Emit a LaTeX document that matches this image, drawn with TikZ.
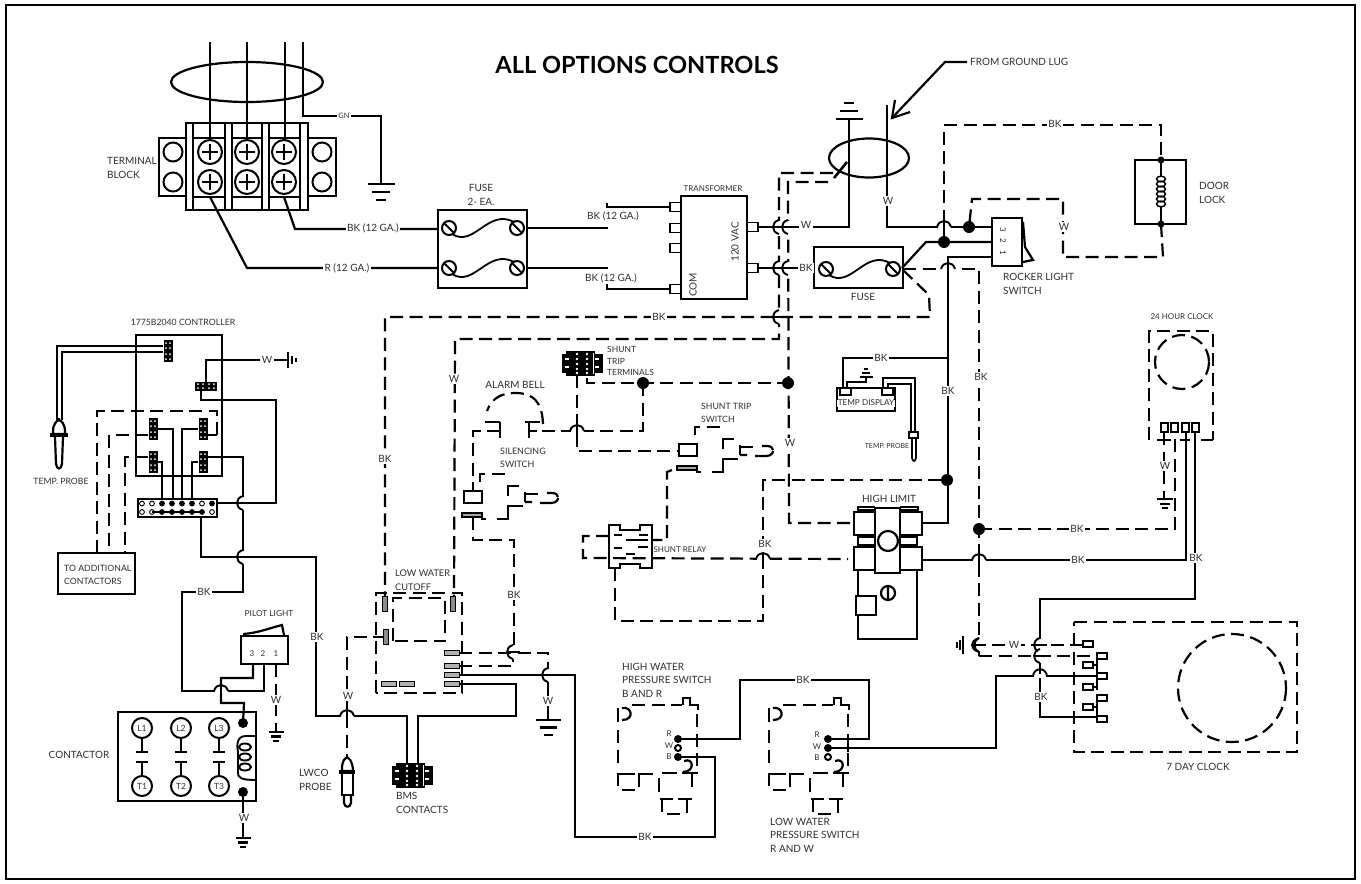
\documentclass[tikz,border=0pt]{standalone}
\usepackage{fontspec}
\setmainfont{Lato}
\newcommand\fs[1]{\fontsize{#1}{#1*1.0}\selectfont}
\tikzset{
 wire/.style={line width=2.2pt,line join=miter,black},
 dashw/.style={line width=2.2pt,dash pattern=on 13pt off 6.5pt,black},
 lbl/.style={font=\fontsize{10}{13.5}\selectfont,text=black!82,inner sep=1pt,align=left},
 cut/.style={lbl,fill=white,inner sep=1.5pt},
 small/.style={font=\fontsize{8}{9}\selectfont,text=black!82,inner sep=0.5pt},
 gnd/.style={line width=2.2pt},
 dotj/.style={circle,fill=black,inner sep=0pt,minimum size=#1},
 dotj/.default=12pt
}
\newcommand\humpH[2]{\fill[white] (#1-6.5,#2-1.6) rectangle (#1+6.5,#2+1.6);
 \draw[line width=1.9pt] (#1-7,#2) .. controls (#1-5,#2-8) and (#1+5,#2-8) .. (#1+7,#2);
 \draw[line width=1.9pt] (#1,#2-6) -- (#1,#2+7);}
\newcommand\humpV[2]{\fill[white] (#1-1.6,#2-6.5) rectangle (#1+1.6,#2+6.5);
 \draw[line width=1.9pt] (#1,#2-7) .. controls (#1-8,#2-5) and (#1-8,#2+5) .. (#1,#2+7);
 \draw[line width=1.9pt] (#1-6,#2) -- (#1+7,#2);}
\newcommand\gndH[3]{\draw[gnd] (#1-#3,#2) -- (#1+#3,#2);
 \draw[gnd] (#1-0.68*#3,#2+0.6*#3) -- (#1+0.68*#3,#2+0.6*#3);
 \draw[gnd] (#1-0.36*#3,#2+1.2*#3) -- (#1+0.36*#3,#2+1.2*#3);}
\newcommand\screwP[2]{\draw[line width=2pt,fill=white] (#1,#2) circle[radius=12];
 \draw[line width=1.8pt] (#1-8,#2) -- (#1+8,#2) (#1,#2-8) -- (#1,#2+8);}
\newcommand\screwD[2]{\draw[line width=2pt,fill=white] (#1,#2) circle[radius=7];
 \draw[line width=2pt] (#1-5,#2-5) -- (#1+5,#2+5);}
\newcommand\connV[2]{\fill (#1-4.5,#2-11) rectangle (#1+4.5,#2+11);
 \foreach \yy in {-8,-3,3,8}{\fill[white] (#1-2,#2+\yy) circle[radius=1]; \fill[white] (#1+2,#2+\yy) circle[radius=1];}}
\newcommand\connH[2]{\fill (#1-11,#2-4.5) rectangle (#1+11,#2+4.5);
 \foreach \xx in {-8,-3,3,8}{\fill[white] (#1+\xx,#2-2) circle[radius=1]; \fill[white] (#1+\xx,#2+2) circle[radius=1];}}
\newcommand\bigconn[2]{\fill (#1,#2+3) rectangle (#1+41,#2+22);
 \fill (#1+4,#2) rectangle (#1+33,#2+25);
 \foreach \xx in {15,25}{\foreach \yy in {3,8,13,18,22}{\fill[white] (#1+\xx,#2+\yy) circle[radius=1.4];}}
 \foreach \xx in {5,35}{\foreach \yy in {8,16}{\fill[white] (#1+\xx-2,#2+\yy-1) rectangle (#1+\xx+2,#2+\yy+1);}}
 \draw[white,line width=0.8pt] (#1+31,#2+2) -- (#1+31,#2+23);}
\newcommand\term[2]{\draw[line width=1.8pt,fill=white] (#1-5,#2-3) rectangle (#1+5,#2+3);}
\newcommand\termV[2]{\draw[line width=1.6pt,fill=black!45] (#1-2.5,#2-7.5) rectangle (#1+2.5,#2+7.5);}
\newcommand\termH[2]{\draw[line width=1.6pt,fill=black!30] (#1-7.5,#2-2.5) rectangle (#1+7.5,#2+2.5);}
\newcommand\swsym{
 \draw[wire] (464,491) rectangle (482,503);
 \draw[line width=1.5pt,fill=black!35] (462,513) rectangle (482,517);
 \draw[dashw] (480,482) -- (480,474) -- (510,474);
 \draw[wire] (519,486) -- (508,486) -- (508,496);
 \draw[wire] (523,506) -- (508,506) -- (508,519) -- (497,519);
 \draw[wire] (482,517) -- (482,519) -- (486,519);
 \draw[wire] (525,492) -- (525,502) (525,494) -- (538,494);
 \draw[wire] (525,502) -- (532,502) (540,503) -- (551,503) .. controls (556,503) and (558,500) .. (558,498);
 \draw[wire] (547,493) -- (552,493) .. controls (556,493) and (558,495) .. (558,497);}
\newcommand\pswitch{
 \draw[wire] (618,708) -- (618,722);
 \draw[wire] (622,708) .. controls (632,706) and (635,720) .. (622,720);
 \draw[dashw] (632,705) -- (682,705);
 \draw[wire] (683,705) -- (683,698) -- (690,698) -- (690,705) -- (698,705) -- (698,710);
 \draw[dashw] (697,714) -- (697,772);
 \draw[dashw] (618,730) -- (618,767);
 \draw[wire] (684,761) .. controls (694,757) and (695,772) .. (683,772);
 \draw[wire] (635,774) -- (618,774) -- (618,786);
 \draw[wire] (622,790) -- (635,790);
 \draw[wire] (653,774) -- (639,774) -- (639,787);
 \draw[wire] (659,778) -- (659,792);
 \draw[wire] (662,773) -- (677,773);
 \draw[wire] (682,773) -- (698,773);
 \draw[wire] (692,773) -- (692,787);
 \draw[wire] (660,799) -- (673,799) (662,799) -- (662,812);
 \draw[wire] (667,814) -- (680,814);
 \draw[wire] (678,799) -- (692,799) (687,799) -- (687,813);}
\begin{document}
\begin{tikzpicture}[x=1pt,y=-1pt]
\useasboundingbox (0,0) rectangle (1361,884);
\draw[line width=2.4pt] (6,5) rectangle (1355,879);

% ---- named wire ends and junctions
\coordinate (tbL) at (210,197); \coordinate (tbR) at (284,197);
\coordinate (f1a) at (438,229); \coordinate (f1b) at (438,268);
\coordinate (f1c) at (527,228); \coordinate (f1d) at (527,268);
\coordinate (tA) at (670,207); \coordinate (tD) at (670,289);
\coordinate (tR1) at (758,227); \coordinate (tR2) at (758,268);
\coordinate (f2a) at (814,268); \coordinate (f2b) at (902,268);
\coordinate (rk3) at (992,227); \coordinate (rk2) at (992,242); \coordinate (rk1) at (992,257);
\coordinate (jW) at (969,227); \coordinate (jBK) at (944,242);
\coordinate (hlUL) at (854,523); \coordinate (hlLL) at (848,559);
\coordinate (hlUR) at (922,523); \coordinate (hlLR) at (922,560);
\coordinate (jHL) at (947,480); \coordinate (j979) at (979,529);
\coordinate (j643) at (643,383); \coordinate (j788) at (788,383);
\coordinate (dlT) at (1161,160); \coordinate (dlB) at (1161,224);
\coordinate (hwR) at (678,739); \coordinate (hwB) at (678,757);
\coordinate (lwR) at (828,739); \coordinate (lwW) at (828,748);
\coordinate (lwc1) at (459,653); \coordinate (lwc2) at (459,666);
\coordinate (lwc3) at (459,675); \coordinate (lwc4) at (459,684);
\coordinate (ctA) at (243,723); \coordinate (ctB) at (243,792);

% ---- solid wires
\foreach \xx in {210,247,285}{\draw[wire] (\xx,42) -- (\xx,140);}
\draw[wire] (303,42) -- (303,116) -- (381,116) -- (381,184);
\draw[wire] (tbR) -- (295,229) -- (f1a);
\draw[wire] (tbL) -- (247,268) -- (f1b);
\draw[wire] (f1c) -- (608,228);
\draw[wire] (f1d) -- (608,268);
\draw[wire] (607,203) -- (607,207) -- (tA);
\draw[wire] (607,284) -- (607,289) -- (tD);
\draw[wire] (tR1) -- (849,227) -- (849,120);
\draw[wire] (tR2) -- (f2a);
\draw[wire] (887,105) -- (887,227) -- (rk3);
\draw[wire] (f2b) -- (926,242) -- (rk2);
\draw[wire] (rk1) -- (948,257) -- (948,523) -- (hlUR);
\draw[wire] (843,388) -- (843,358) -- (948,358);
\draw[wire] (hlLR) -- (1186,560) -- (1186,432);
\draw[wire] (1195,432) -- (1195,599) -- (1040,599) -- (1040,717) -- (1097,717);
\draw[wire] (lwW) -- (996,748) -- (996,676) -- (1097,676);
\draw[wire] (hwR) -- (740,739) -- (740,680) -- (869,680) -- (869,739) -- (lwR);
\draw[wire] (hwB) -- (715,757) -- (715,837) -- (575,837) -- (575,675) -- (lwc3);
\draw[wire] (lwc4) -- (516,684) -- (516,716) -- (418,716) -- (418,765);
\draw[wire] (201,517) -- (201,557) -- (316,557) -- (316,716) -- (407,716) -- (407,765);
\draw[wire] (548,682) -- (548,720);
\draw[wire] (206,382) -- (206,360) -- (288,360);
\draw[wire] (201,390) -- (201,400) -- (276,400) -- (276,503) -- (217,503);
\draw[wire] (158,429) -- (173,429) -- (173,499);
\draw[wire] (198,429) -- (182,429) -- (182,499);
\draw[wire] (158,462) -- (162,462) -- (162,499);
\draw[wire] (198,462) -- (192,462) -- (192,499);
\draw[wire] (208,457) -- (243,457) -- (243,592) -- (182,592) -- (182,691) -- (264,691) -- (264,664);
\draw[wire] (253,664) -- (253,678) -- (221,678) -- (221,703) -- (244,703) -- (ctA);
\draw[wire] (ctB) -- (243,838);

% ---- dashed wires
\draw[dashw] (903,270) -- (929,295) -- (930,317) -- (385,317) -- (385,600);
\draw[dashw] (903,269) -- (979,269) -- (979,638);
\draw[line width=1.9pt] (979,638) .. controls (973,640) and (973,650) .. (979,652) -- (979,656);
\draw[dashw] (979,656) -- (1097,656);
\draw[dashw] (1083,645) -- (973,645);
\draw[dashw] (833,173) -- (779,173) -- (779,339) -- (455,339) -- (454,600);
\draw[dashw] (828,182) -- (788,182) -- (789,523) -- (hlUL);
\draw[dashw] (587,378) -- (587,383) -- (j643) -- (j788);
\draw[dashw] (j643) -- (643,431) -- (537,431);
\draw[dashw] (500,431) -- (473,431) -- (473,491);
\draw[dashw] (577,375) -- (577,451) -- (677,451);
\draw[dashw] (473,517) -- (473,540) -- (514,540) -- (514,652);
\draw[dashw] (672,470) -- (667,472) -- (667,540) -- (652,540);
\draw[dashw] (609,536) -- (583,536) -- (583,558) -- (hlLL);
\draw[dashw] (615,568) -- (615,621) -- (763,621) -- (763,480) -- (jHL);
\draw[dashw] (jBK) -- (944,125) -- (1161,125) -- (dlT);
\draw[dashw] (dlB) -- (1163,257) -- (1063,257) -- (1063,199) -- (972,199) -- (jW);
\draw[dashw] (j979) -- (1175,529) -- (1175,432);
\draw[dashw] (1164,432) -- (1164,499);
\draw[dashw] (386,637) -- (347,637) -- (347,757);
\draw[dashw] (lwc1) -- (548,653) -- (548,682);
\draw[dashw] (lwc2) -- (513,666) -- (513,652);
\draw[dashw] (276,664) -- (276,732);
\draw[dashw] (217,435) -- (217,411) -- (97,411) -- (97,553);
\draw[wire] (217,435) -- (208,435);
\draw[dashw] (148,435) -- (109,435) -- (109,553);
\draw[dashw] (148,457) -- (125,457) -- (125,553);
\draw[line width=2.6pt] (834,178) -- (847,162);

% ---- terminal block
\draw[wire,fill=white] (159,138) rectangle (186,196);
\draw[wire,fill=white] (308,138) rectangle (336,196);
\draw[wire] (186,123) rectangle (308,210);
\foreach \xx in {193,225,232,262,269,300}{\draw[line width=1.9pt] (\xx,123) -- (\xx,210);}
\draw[line width=1.9pt] (193,138) -- (225,138) (232,138) -- (262,138) (269,138) -- (300,138);
\draw[line width=1.9pt] (193,197) -- (225,197) (232,197) -- (262,197) (269,197) -- (300,197);
\foreach \xx in {210,247,284}{\screwP{\xx}{152}\screwP{\xx}{182}}
\foreach \xx in {173,322}{\foreach \yy in {152,182}{\draw[line width=2pt] (\xx,\yy) circle[radius=9.5];}}
\draw[wire] (247,82) ellipse[x radius=76,y radius=20];
\gndH{381}{184}{13.5}

% ---- fuses
\draw[wire] (438,210) rectangle (527,288);
\foreach \yy in {228,268}{
 \draw[line width=1.8pt] (452,\yy+6) .. controls (474,\yy+20) and (488,\yy-20) .. (514,\yy-6);
 \screwD{449}{\yy}\screwD{517}{\yy}}
\node[lbl,anchor=center,align=center] (fuse1lbl) at (481,195) {FUSE\\2- EA.};
\draw[wire] (814,247) rectangle (903,288);
\draw[line width=1.8pt] (829,275) .. controls (851,289) and (865,249) .. (890,263);
\screwD{826}{269}\screwD{893}{269}

% ---- transformer
\draw[wire] (681,196) rectangle (747,299);
\foreach \yy in {207,228,248,289}{\draw[line width=1.8pt,fill=white] (670,\yy-4.5) rectangle (681,\yy+4.5);}
\foreach \yy in {227,268}{\draw[line width=1.8pt,fill=white] (747,\yy-4.5) rectangle (758,\yy+4.5);}
\node[small] (tlbl) at (713,189) {TRANSFORMER};
\node[lbl,rotate=90] (vac) at (735,242) {120 VAC};
\node[lbl,rotate=90] (com) at (693,285) {COM};

% ---- second ellipse, ground, arrow
\draw[wire] (869,158) ellipse[x radius=40,y radius=19.5];
\gndH{849}{119}{-13.5}
\draw[wire] (967,62) -- (945,62) -- (892,118);
\draw[wire] (910,112) -- (892,118) -- (895,100);

% ---- rocker switch
\draw[wire,fill=white] (992,218) rectangle (1022,266);
\node[small,rotate=-90] (r3) at (1003,230) {3};
\node[small,rotate=-90] (r2) at (1003,241) {2};
\node[small,rotate=-90] (r1) at (1003,253) {1};
\draw[wire] (1023,222) -- (1025,247) -- (1033,260) -- (1023,262);
\node[dotj] (dW) at (jW) {};
\node[dotj] (dB) at (jBK) {};

% ---- door lock
\draw[wire] (1135,160) rectangle (1186,224);
\draw[line width=1.8pt] (dlT) -- (1161,177) (1161,207) -- (dlB);
\foreach \yy in {179,184,189,194,199,204}{\draw[line width=1.5pt] (1161,\yy) ellipse[x radius=4.5,y radius=2.8];}
\node[dotj=7pt] (dl1) at (dlT) {};
\node[dotj=7pt] (dl2) at (dlB) {};

% ---- controller
\draw[wire] (136,335) rectangle (222,476);
\draw[wire] (163,346) -- (57,346) -- (57,420);
\draw[wire] (163,352) -- (62,352) -- (62,420);
\connV{168}{351}\connH{206}{386}\connV{153}{429}\connV{203}{429}\connV{153}{462}\connV{203}{462}
\draw[line width=2.4pt,fill=white] (138,499) rectangle (217,517);
\foreach \xx in {142,152,...,212}{\draw[line width=0.9pt,fill=white] (\xx,503.5) circle[radius=2.4];\draw[line width=0.9pt,fill=white] (\xx,512) circle[radius=2.4];}
\draw[line width=1.6pt] (152,512) -- (202,512);
\foreach \xx in {162,172,182,192,212}{\fill (\xx,503.5) circle[radius=2.2];}
\foreach \xx in {162,172,...,202}{\fill (\xx,512) circle[radius=2.2];}
% temp probe 1
\draw[wire,fill=white] (59,418) -- (59,420) .. controls (52,423) and (53,432) .. (53,434) -- (65,434) .. controls (65,432) and (66,423) .. (59,420);
\fill (50,433) rectangle (68,437);
\draw[wire] (55,437) -- (56,464) .. controls (57,470) and (61,470) .. (62,464) -- (63,437);
% ground of controller
\draw[gnd] (288,352) -- (288,368) (292,356) -- (292,364) (296,358) -- (296,362);
% additional contactors
\draw[wire,fill=white] (58,553) rectangle (135,594);
% ---- pilot light
\draw[wire] (241,636) rectangle (288,664);
\draw[wire] (243,634) .. controls (258,633) and (270,628) .. (282,625) -- (284,635);
\node[small] (p3) at (252,654) {3};
\node[small] (p2) at (263,654) {2};
\node[small] (p1) at (276,654) {1};
\gndH{276}{732}{7.5}
% ---- contactor
\draw[wire] (118,712) rectangle (256,801);
\foreach \xx/\aa/\bb in {142/L1/T1,181/L2/T2,219/L3/T3}{
 \draw[wire] (\xx,738) -- (\xx,752) (\xx-6,752) -- (\xx+6,752);
 \draw[wire] (\xx,776) -- (\xx,762) (\xx-6,762) -- (\xx+6,762);
 \node[draw,circle,line width=2pt,minimum size=20pt,inner sep=0pt,font=\fontsize{8.5}{9}\selectfont,text=black!80] (n\aa) at (\xx,728) {\aa};
 \node[draw,circle,line width=2pt,minimum size=20pt,inner sep=0pt,font=\fontsize{8.5}{9}\selectfont,text=black!80] (n\bb) at (\xx,786) {\bb};}
\node[dotj=10pt] (c1) at (ctA) {};
\node[dotj=10pt] (c2) at (ctB) {};
\draw[line width=1.9pt] (256,736) -- (246,736) .. controls (236,736) and (237,746) .. (238,752) -- (238,772) .. controls (237,778) and (242,780) .. (256,780);
\foreach \yy in {747,757,767}{\draw[line width=1.9pt] (245,\yy) ellipse[x radius=6,y radius=3.5];}
\gndH{243}{838}{7.5}
% ---- LWCO probe
\draw[wire,fill=white] (347,757) .. controls (341,760) and (342,770) .. (342,771) -- (353,771) .. controls (353,770) and (353,760) .. (347,757);
\fill (339,770) rectangle (355,774);
\draw[wire] (342,774) -- (342,795) -- (353,795) -- (353,774);
\draw[wire] (344,795) -- (344,803) .. controls (345,808) and (350,808) .. (351,803) -- (351,795);
% ---- BMS, shunt trip terminals
\bigconn{392}{763}
\bigconn{562}{351}
% ---- low water cutoff
\draw[dashw] (376,693) -- (376,593) -- (462,593) -- (462,693) -- (376,693);
\draw[dashw] (393,641) -- (393,598) -- (445,598) -- (445,641) -- (393,641);
\termV{385}{604}\termV{453}{604}\termV{386}{637}
\termH{452}{653}\termH{452}{666}\termH{452}{675}\termH{452}{684}
\termH{389}{684}\termH{407}{684}
\gndH{548}{720}{12.5}
% ---- alarm bell and switches
\draw[wire] (529,438) -- (529,422) (525,422) -- (540,422);
\draw[wire] (500,438) -- (500,422) (485,422) -- (500,422);
\draw[wire] (529,431) -- (537,431);
\draw[dashw] (543,424) .. controls (542,395) and (526,393) .. (515,393) .. controls (503,393) and (492,397) .. (487,411);
\swsym
\begin{scope}[shift={(215,-47)}]\swsym\end{scope}
% ---- shunt relay
\draw[wire] (609,525) -- (620,525) -- (620,530) -- (640,530) -- (640,525) -- (652,525) -- (652,568) -- (640,568) -- (640,564) -- (620,564) -- (620,568) -- (609,568) -- cycle;
\draw[wire] (614,535) -- (622,535) (639,535) -- (648,535) (626,540) -- (648,540) (614,548) -- (622,548) (638,547) -- (648,547) (626,554) -- (635,554);
% ---- temp display
\draw[wire] (837,388) rectangle (895,411);
\draw[line width=1.7pt,fill=white] (840,388) rectangle (851,395);
\draw[line width=1.7pt,fill=white] (882,388) rectangle (893,395);
\draw[line width=1.7pt] (847,388) -- (847,382) -- (866,382) -- (866,377);
\gndH{866}{377}{-6.5}
\draw[line width=1.7pt] (883,388) -- (883,378) -- (915,378) -- (915,432);
\draw[line width=1.7pt] (888,388) -- (888,384) -- (911,384) -- (911,432);
\draw[line width=1.7pt,fill=white] (909,432) rectangle (918,438);
\draw[line width=1.7pt] (912,438) -- (912,458) .. controls (913,462) and (915,462) .. (916,458) -- (916,438);
% ---- high limit
\draw[wire] (858,570) -- (858,639) -- (917,639) -- (917,570);
\draw[wire] (858,535) -- (858,547) (917,535) -- (917,547);
\draw[line width=1.8pt] (858,537) -- (875,537) (858,545) -- (875,545) (900,537) -- (917,537) (900,545) -- (917,545);
\draw[line width=1.8pt] (858,512) -- (858,507) -- (875,507) (858,510) -- (875,510) (900,507) -- (918,507) -- (918,512) (900,510) -- (918,510);
\draw[wire,fill=white] (875,508) rectangle (900,573);
\draw[wire,fill=white] (854,512) rectangle (875,535);
\draw[wire,fill=white] (900,512) rectangle (922,535);
\draw[wire,fill=white] (854,547) rectangle (875,570);
\draw[wire,fill=white] (900,547) rectangle (922,570);
\draw[wire] (888,541) circle[radius=10];
\draw[wire,fill=white] (856,596) rectangle (876,615);
\draw[wire] (888,593) circle[radius=7] (888,586) -- (888,600);
% ---- 24 hour clock
\draw[dashw] (1149,440) -- (1149,331) -- (1213,331) -- (1213,440);
\draw[wire] (1213,440) -- (1201,440);
\draw[wire] (1157,440) -- (1171,440) (1180,440) -- (1190,440);
\draw[dashw] (1182,362) circle[radius=27];
\foreach \xx in {1164.5,1174.5,1185.5,1195.5}{\draw[line width=1.9pt,fill=white] (\xx-3.5,423) rectangle (\xx+3.5,432);}
\draw[gnd] (1157,499) -- (1173,499) (1160,504) -- (1170,504) (1162,508) -- (1168,508);
% ---- 7 day clock
\draw[dashw] (1074,622) -- (1297,622) -- (1297,752) -- (1074,752) -- (1074,622);
\draw[dashw] (1232,688) circle[radius=54];
\foreach \a/\b in {1088/644,1102/656,1088/665,1102/676,1088/687,1102/698,1088/707,1102/719}{\term{\a}{\b}}
\draw[line width=2pt] (1097,656) -- (1097,676) (1093,665) -- (1097,665) (1097,680) -- (1097,690) (1093,687) -- (1097,687) (1097,698) -- (1097,717) (1093,707) -- (1097,707);
\draw[gnd] (963,636) -- (963,654) (960,640) -- (960,650) (957,642) -- (957,648);
\draw[line width=1.9pt] (979,638) .. controls (973,640) and (973,642) .. (972,645) .. controls (973,648) and (973,650) .. (979,652);
% ---- pressure switches
\pswitch
\begin{scope}[shift={(151,0)}]\pswitch\end{scope}
\draw[line width=1.8pt] (848,735) -- (848,752);
\node[dotj=8pt] (hr) at (hwR) {};
\node[draw,circle,line width=2pt,minimum size=6pt,inner sep=0pt] (hw) at (678,748) {};
\node[dotj=8pt] (hb) at (hwB) {};
\node[dotj=8pt] (lr) at (lwR) {};
\node[dotj=8pt] (lw) at (lwW) {};
\node[draw,circle,line width=2pt,minimum size=6pt,inner sep=0pt] (lb) at (828,757) {};
\node[small] at (669,734) {R}; \node[small] at (669,746) {W}; \node[small] at (669,757) {B};
\node[small] at (817,735) {R}; \node[small] at (817,747) {W}; \node[small] at (817,758) {B};

% ---- humps
\humpH{577}{431}\humpH{763}{559}\humpH{979}{560}\humpH{944}{227}\humpH{948}{269}
\humpH{221}{691}\humpH{347}{716}
\humpV{779}{227}\humpV{788}{227}\humpV{779}{268}\humpV{788}{268}\humpV{779}{317}
\humpV{243}{503}\humpV{243}{557}\humpV{548}{675}\humpV{513}{652}
\humpV{1040}{645}\humpV{1040}{656}
\fill[white] (1034,674.4) rectangle (1046,677.6);
\draw[line width=1.9pt] (1033,676) .. controls (1034,667) and (1046,667) .. (1047,676);
\node[dotj] (d1) at (j643) {};
\node[dotj] (d2) at (j788) {};
\node[dotj] (d3) at (jHL) {};
\node[dotj] (d4) at (j979) {};

% ---- wire labels
\node[lbl,font=\fontsize{7.5}{9}\selectfont,fill=white,inner sep=1.5pt] (gn) at (344,116) {GN};
\node[cut] (l1) at (373,228) {BK (12 GA.)};
\node[cut] (l2) at (347,268) {R (12 GA.)};
\node[lbl] (l3) at (613,216) {BK (12 GA.)};
\node[lbl] (l4) at (611,278) {BK (12 GA.)};
\node[cut] (l5) at (806,225) {W};
\node[cut] (l6) at (806,268) {BK};
\node[cut] (l7) at (888,201) {W};
\node[cut] (l8) at (1055,124) {BK};
\node[cut] (l9) at (1064,227) {W};
\node[cut] (l10) at (659,317) {BK};
\node[cut] (l11) at (385,459) {BK};
\node[cut] (l12) at (454,379) {W};
\node[cut] (l13) at (790,443) {W};
\node[cut] (l14) at (881,358) {BK};
\node[cut] (l15) at (948,391) {BK};
\node[cut] (l16) at (981,377) {BK};
\node[cut] (l17) at (765,544) {BK};
\node[cut] (l18) at (514,595) {BK};
\node[cut] (l19) at (1077,529) {BK};
\node[cut] (l20) at (1078,560) {BK};
\node[cut] (l21) at (1196,558) {BK};
\node[cut] (l22) at (1165,466) {W};
\node[cut] (l23) at (1014,645) {W};
\node[cut] (l24) at (1041,697) {BK};
\node[cut] (l25) at (803,680) {BK};
\node[cut] (l26) at (645,837) {BK};
\node[cut] (l27) at (548,701) {W};
\node[cut] (l28) at (348,696) {W};
\node[cut] (l29) at (317,637) {BK};
\node[cut] (l30) at (204,592) {BK};
\node[cut] (l31) at (267,360) {W};
\node[cut] (l32) at (276,700) {W};
\node[cut] (l33) at (244,818) {W};

% ---- text labels
\node[font=\bfseries\fontsize{23.6}{28}\selectfont] (title) at (637,65) {ALL OPTIONS CONTROLS};
\node[lbl,anchor=west] (fg) at (969,62) {FROM GROUND LUG};
\node[lbl,anchor=west] (tb) at (106,168) {TERMINAL\\BLOCK};
\node[lbl] (f2l) at (863,297) {FUSE};
\node[lbl,anchor=west] (rl) at (1002,284) {ROCKER LIGHT\\SWITCH};
\node[lbl,anchor=west] (dll) at (1198,193) {DOOR\\LOCK};
\node[lbl,font=\fontsize{8.7}{13}\selectfont] (cl) at (183,322) {1775B2040 CONTROLLER};
\node[lbl,font=\fontsize{8.7}{13}\selectfont] (tp1) at (61,481) {TEMP. PROBE};
\node[lbl,anchor=west,font=\fontsize{8.7}{13}\selectfont] (tac) at (63,575) {TO ADDITIONAL\\CONTACTORS};
\node[lbl,font=\fontsize{8.3}{13}\selectfont] (pl) at (269,614) {PILOT LIGHT};
\node[lbl] (ctl) at (79,755) {CONTACTOR};
\node[lbl,anchor=west] (lw1) at (298,780) {LWCO\\PROBE};
\node[lbl,anchor=west] (bms) at (395,803) {BMS\\CONTACTS};
\node[lbl,anchor=west,font=\fontsize{9.2}{14}\selectfont] (lwc) at (394,580) {LOW WATER\\CUTOFF};
\node[lbl,anchor=west,font=\fontsize{8.5}{11.5}\selectfont] (st) at (606,361) {SHUNT\\TRIP\\TERMINALS};
\node[lbl] (ab) at (515,385) {ALARM BELL};
\node[lbl,anchor=west,font=\fontsize{8.9}{13.5}\selectfont] (ss) at (499,458) {SILENCING\\SWITCH};
\node[lbl,anchor=west,font=\fontsize{8.7}{13.5}\selectfont] (sts) at (700,413) {SHUNT TRIP\\SWITCH};
\node[lbl,font=\fontsize{8}{10}\selectfont] (srl) at (680,550) {SHUNT RELAY};
\node[lbl,fill=white,inner sep=0.5pt,font=\fontsize{8.2}{10}\selectfont] (td) at (866,403) {TEMP DISPLAY};
\node[lbl,font=\fontsize{7}{10}\selectfont] (tp2) at (887,446) {TEMP. PROBE};
\node[lbl] (hl) at (889,499) {HIGH LIMIT};
\node[lbl,font=\fontsize{8}{10}\selectfont] (c24) at (1182,317) {24 HOUR CLOCK};
\node[lbl] (c7) at (1198,767) {7 DAY CLOCK};
\node[lbl,anchor=west] (hwl) at (621,680) {HIGH WATER\\PRESSURE SWITCH\\B AND R};
\node[lbl,anchor=west] (lwl) at (769,835) {LOW WATER\\PRESSURE SWITCH\\R AND W};
\end{tikzpicture}
\end{document}
